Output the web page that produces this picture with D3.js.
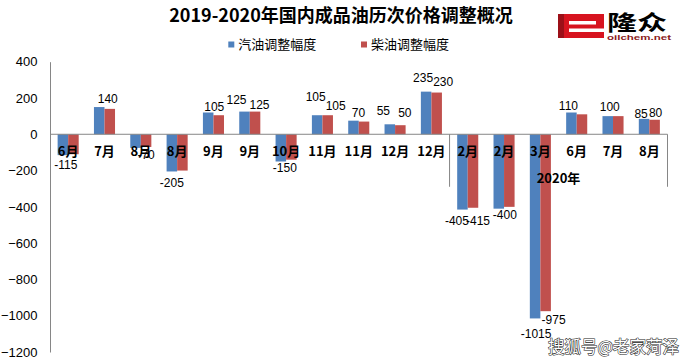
<!DOCTYPE html>
<meta charset="utf-8">
<head>
  <title>2019-2020年国内成品油历次价格调整概况</title>
  <script src="https://cdn.jsdelivr.net/npm/d3@7/dist/d3.min.js"></script>
  <style>
    body { margin: 0; background: #fff; }
    text { font-family: "Liberation Sans", Arial, "Noto Sans CJK SC", sans-serif; }
    .cjk { font-family: "Noto Sans CJK SC", "Liberation Sans", sans-serif; }
  </style>
</head>
<body>
  <div id="chart"></div>
  <script>
    // data
    var months = ["6月", "7月", "8月", "8月", "9月", "9月", "10月", "11月", "11月", "12月", "12月",
                  "2月", "2月", "3月", "6月", "7月", "8月"];
    var gasoline = [-115, 150, -75, -205, 120, 125, -150, 105, 75, 55, 235, -415, -410, -1015, 120, 100, 85];
    var diesel   = [-110, 140, -70, -200, 105, 125, -140, 105, 70, 50, 230, -405, -400, -975, 110, 100, 80];
    // labels shown on the chart (null = no label visible)
    var gasolineLabels = ["-115", null, null, "-205", null, "125", "-150", "105", null, "55", "235",
                          "-405", null, "-1015", "110", "100", "85"];
    var dieselLabels   = [null, "140", "-70", null, "105", "125", null, "105", "70", "50", "230",
                          "-415", "-400", "-975", null, null, "80"];
    var seriesNames = ["汽油调整幅度", "柴油调整幅度"];
    var yearGroups = [{ label: "", start: 0, end: 11 }, { label: "2020年", start: 11, end: 17 }];
    var yTicks = [400, 200, 0, -200, -400, -600, -800, -1000, -1200];

    // label nudges (Excel moved some labels apart), layout only
    var nudgeG = {0: [3, 0], 3: [0, 1], 5: [-8, -2.5], 6: [4, -4], 7: [-1.5, -9.5], 9: [-6.5, -4],
                  10: [-3, -5], 11: [-5.5, 1], 13: [1, 5], 14: [-3, 2.5], 15: [2, 0], 16: [-3, 3.5]};
    var nudgeD = {1: [-2, -1], 2: [0, -2], 4: [-4.5, 1], 5: [4.5, 2.5], 7: [8, 0], 8: [-5.5, 0],
                  9: [4.5, -3.5], 10: [6.5, -2], 11: [5, 3], 12: [-4.5, -2], 13: [8, -1], 16: [1, 2.5]};

    var width = 686, height = 364;
    var colors = ["#4f81bd", "#c0504d"];

    var svg = d3.select("#chart").append("svg")
      .attr("width", width)
      .attr("height", height);

    var plotLeft = 50, plotRight = 667.5;

    var y = d3.scaleLinear().domain([-1200, 400]).range([352, 61.7]);
    var x0 = d3.scaleBand()
      .domain(d3.range(months.length))
      .range([plotLeft, plotRight])
      .paddingInner(0.42)
      .paddingOuter(0.21);
    var x1 = d3.scaleBand().domain([0, 1]).range([0, x0.bandwidth()]);
    var step = x0.step();

    var rows = months.map(function (m, i) {
      return { i: i, vals: [gasoline[i], diesel[i]], labels: [gasolineLabels[i], dieselLabels[i]] };
    });

    // bars
    var groups = svg.append("g").selectAll("g")
      .data(rows)
      .enter().append("g")
      .attr("transform", function (d) { return "translate(" + x0(d.i) + ",0)"; });

    groups.selectAll("rect")
      .data(function (d) { return d.vals.map(function (v, k) { return { k: k, v: v }; }); })
      .enter().append("rect")
      .attr("x", function (d) { return x1(d.k); })
      .attr("width", x1.bandwidth())
      .attr("y", function (d) { return y(Math.max(0, d.v)); })
      .attr("height", function (d) { return Math.abs(y(d.v) - y(0)); })
      .attr("fill", function (d) { return colors[d.k]; });

    // y axis
    var yAxis = svg.append("g")
      .attr("transform", "translate(" + plotLeft + ",0)")
      .call(d3.axisLeft(y).tickValues(yTicks).tickFormat(d3.format("d")).tickSize(0).tickPadding(12.5));
    yAxis.select(".domain").attr("stroke", "#868686");
    yAxis.selectAll("text")
      .style("font-family", "'Liberation Sans', Arial, sans-serif")
      .style("font-size", "13px")
      .attr("fill", "#000");

    // category axis at zero
    svg.append("line")
      .attr("x1", plotLeft).attr("x2", plotRight)
      .attr("y1", y(0)).attr("y2", y(0))
      .attr("stroke", "#868686");

    // year group separators
    yearGroups.forEach(function (g) {
      if (g.start > 0) {
        svg.append("line")
          .attr("x1", plotLeft + g.start * step).attr("x2", plotLeft + g.start * step)
          .attr("y1", y(0)).attr("y2", y(0) + 52.5)
          .attr("stroke", "#868686");
      }
      svg.append("line")
        .attr("x1", plotLeft + g.end * step).attr("x2", plotLeft + g.end * step)
        .attr("y1", y(0)).attr("y2", y(0) + 52.5)
        .attr("stroke", "#868686")
        .attr("visibility", g.end === months.length ? "visible" : "hidden");
      if (g.label) {
        svg.append("text")
          .attr("class", "cjk")
          .attr("x", plotLeft + (g.start + g.end) / 2 * step)
          .attr("y", 178.3)
          .attr("dy", "0.35em")
          .attr("text-anchor", "middle")
          .style("font-size", "13px")
          .style("font-weight", "bold")
          .text(g.label);
      }
    });

    // data labels
    rows.forEach(function (d) {
      d.vals.forEach(function (v, k) {
        var lab = d.labels[k];
        if (!lab) return;
        var nud = (k === 0 ? nudgeG : nudgeD)[d.i] || [0, 0];
        var cx = x0(d.i) + x1(k) + x1.bandwidth() / 2;
        var cy = v >= 0 ? y(v) - 9 : y(v) + 10;
        svg.append("text")
          .attr("x", cx + nud[0])
          .attr("y", cy + nud[1])
          .attr("dy", "0.35em")
          .attr("text-anchor", "middle")
          .style("font-size", "12px")
          .text(lab);
      });
    });

    // category labels (drawn over bars, like the original)
    svg.append("g").selectAll("text")
      .data(months)
      .enter().append("text")
      .attr("class", "cjk")
      .attr("x", function (d, i) { return x0(i) + x0.bandwidth() / 2; })
      .attr("y", 151.7)
      .attr("dy", "0.35em")
      .attr("text-anchor", "middle")
      .style("font-size", "13px")
      .style("font-weight", "bold")
      .text(function (d) { return d; });

    // title
    svg.append("text")
      .attr("class", "cjk")
      .attr("x", 341)
      .attr("y", 16)
      .attr("dy", "0.35em")
      .attr("text-anchor", "middle")
      .style("font-size", "18px")
      .style("font-weight", "bold")
      .text("2019-2020年国内成品油历次价格调整概况");

    // legend
    var legendX = [228.3, 361];
    seriesNames.forEach(function (name, k) {
      svg.append("rect")
        .attr("x", legendX[k]).attr("y", 41.5)
        .attr("width", 6).attr("height", 6)
        .attr("fill", colors[k]);
      svg.append("text")
        .attr("class", "cjk")
        .attr("x", legendX[k] + 10)
        .attr("y", 44.5)
        .attr("dy", "0.35em")
        .style("font-size", "13px")
        .text(name);
    });

    // logo
    var logo = svg.append("g");
    logo.append("rect").attr("x", 558).attr("y", 14).attr("width", 46).attr("height", 24).attr("fill", "#d7141f");
    logo.append("rect").attr("x", 558).attr("y", 14).attr("width", 6).attr("height", 24).attr("fill", "#9c1018");
    logo.append("rect").attr("x", 569).attr("y", 21).attr("width", 27).attr("height", 3.5).attr("fill", "#fff");
    logo.append("rect").attr("x", 569).attr("y", 28.5).attr("width", 36).attr("height", 3.5).attr("fill", "#fff");
    logo.append("text")
      .attr("class", "cjk")
      .attr("x", 607).attr("y", 22.5).attr("dy", "0.35em")
      .attr("textLength", 60).attr("lengthAdjust", "spacingAndGlyphs")
      .style("font-size", "21px").style("font-weight", "bold")
      .text("隆众");
    logo.append("text")
      .attr("x", 607).attr("y", 38).attr("dy", "0.35em")
      .attr("textLength", 64).attr("lengthAdjust", "spacingAndGlyphs")
      .style("font-size", "7px").style("font-weight", "bold")
      .attr("fill", "#8b1a1a")
      .text("oilchem.net");

    // watermark
    svg.append("text")
      .attr("class", "cjk")
      .attr("x", 548).attr("y", 347.5).attr("dy", "0.35em")
      .attr("textLength", 131).attr("lengthAdjust", "spacingAndGlyphs")
      .style("font-size", "17px")
      .attr("fill", "#fff")
      .attr("stroke", "#222")
      .attr("stroke-width", 1.1)
      .style("paint-order", "stroke")
      .text("搜狐号@老家菏泽");
  </script>
</body>
</html>
